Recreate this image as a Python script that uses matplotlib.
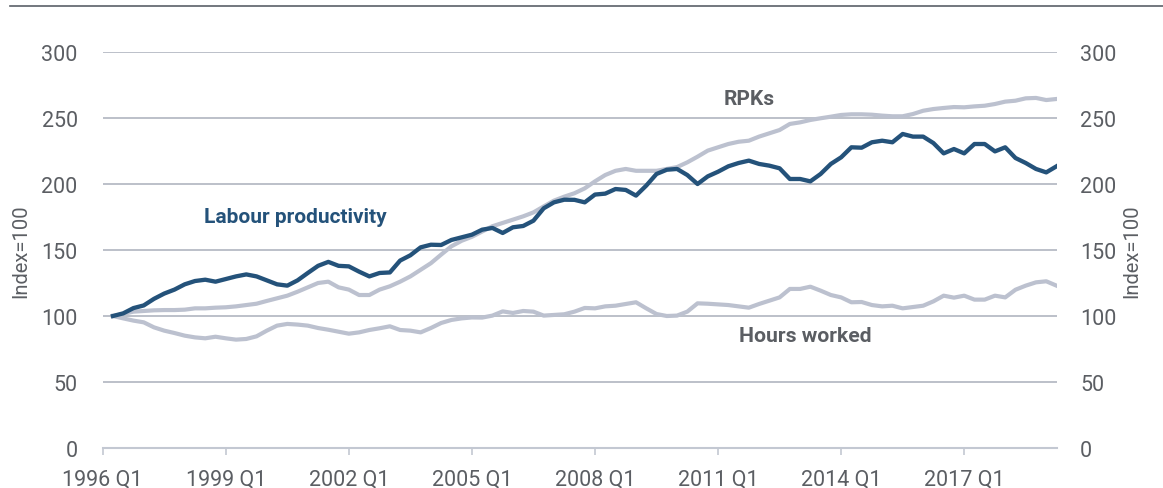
import numpy as np
import matplotlib
matplotlib.use("Agg")
import matplotlib.pyplot as plt
from matplotlib.lines import Line2D

plt.rcParams['font.family'] = ['Roboto', 'DejaVu Sans']

tick_labels = ["1996 Q1", "1999 Q1", "2002 Q1", "2005 Q1", "2008 Q1",
               "2011 Q1", "2014 Q1", "2017 Q1"]

productivity = [100, 102, 106, 108, 113, 117, 120, 124, 126.5, 127.5, 126, 128,
                130, 131.5, 130, 127, 124, 123, 127, 132.6, 138, 141, 138, 137.6,
                133.6, 130, 132.6, 133, 142, 146, 152, 154, 153.8, 157.6, 159.6, 161.6,
                165.4, 166.7, 162.9, 167.2, 168.2, 172.2, 181.6, 186.1, 188.1, 188, 186.1, 192,
                192.7, 196.2, 195.5, 191.2, 198.8, 207.6, 210.8, 211.4, 206.8, 200, 205.8, 209.3,
                213.4, 215.9, 217.7, 215.2, 213.9, 211.9, 203.8, 203.8, 202, 207.6, 215.2, 220.2,
                227.8, 227.5, 231.6, 232.8, 231.6, 237.9, 235.9, 235.9, 231, 223.2, 226.5, 223.2,
                230.3, 230.3, 224.7, 227.8, 219.7, 215.9, 211.4, 208.8, 213.4]

rpks = [100, 101.5, 103.3, 103.8, 104.3, 104.5, 104.5, 104.8, 105.8, 105.8, 106.3, 106.6,
        107.3, 108.3, 109.3, 111.4, 113.4, 115.4, 118.4, 121.7, 125, 126, 121.7, 120,
        115.9, 115.9, 120, 122.5, 126, 130, 135, 140, 146.5, 152.8, 157, 160,
        164, 168, 170.5, 173, 175.5, 178.5, 183, 187.4, 190.4, 193, 196.7, 202,
        206.8, 210, 211.4, 210, 210, 210, 211.4, 212.8, 216.4, 220.7, 225.3, 227.8,
        230.3, 232, 232.8, 235.9, 238.4, 240.9, 245.5, 246.7, 248.5, 249.8, 251, 252.3,
        252.8, 252.8, 252.5, 251.8, 251.3, 251.3, 253, 255.5, 256.8, 257.6, 258.3, 258.1,
        258.8, 259.3, 260.6, 262.4, 263.1, 264.9, 265.2, 263.6, 264.4]

hours = [100, 98.2, 96.5, 95.2, 91.4, 88.9, 87.1, 85.1, 83.8, 83.1, 84.3, 83.1,
         82.1, 82.6, 84.6, 88.9, 92.7, 94, 93.5, 92.7, 90.9, 89.6, 88.1, 86.6,
         87.6, 89.4, 90.7, 92.2, 89.4, 88.9, 87.6, 90.9, 94.7, 97, 98.2, 98.9,
         98.8, 100.3, 103.5, 102.3, 103.8, 103.3, 100.3, 100.8, 101.3, 103.3, 106.1, 105.8,
         107.3, 107.8, 109.1, 110.4, 105.8, 101.5, 100, 100.3, 103.3, 109.6, 109.3, 108.8,
         108.3, 107.3, 106.3, 109.1, 111.6, 114.1, 120.5, 120.5, 122.2, 119.2, 115.9, 114.1,
         110.4, 110.6, 108.3, 107.3, 107.8, 105.8, 106.8, 107.8, 111.1, 115.4, 113.9, 115.4,
         112.4, 112.4, 115.4, 114.1, 119.9, 123, 125.5, 126.3, 123]

W, H = 1163, 489
fig = plt.figure(figsize=(W / 100, H / 100), dpi=100)
left, right, bottom, top = 102.7, 1056.5, 449, 53
ax = fig.add_axes([left / W, 1 - bottom / H, (right - left) / W, (bottom - top) / H])

x = np.arange(1, len(productivity) + 1)
gray_line = '#bcc1cf'
blue_line = '#24527a'
text_gray = '#5b5e63'

ax.plot(x, hours, color=gray_line, lw=3.0, solid_joinstyle='round', zorder=3)
ax.plot(x, rpks, color=gray_line, lw=3.0, solid_joinstyle='round', zorder=3)
ax.plot(x, productivity, color=blue_line, lw=3.1, solid_joinstyle='round', zorder=4)

ax.set_xlim(0, len(productivity))
ax.set_ylim(0, 300)
yt = [0, 50, 100, 150, 200, 250, 300]
ax.set_yticks(yt)
ax.yaxis.grid(True, color='#a9afbb', lw=1.1)
ax.set_axisbelow(True)
for s in ['top', 'right', 'left']:
    ax.spines[s].set_visible(False)
ax.spines['bottom'].set_color('#c3c8d2')
ax.spines['bottom'].set_linewidth(1.5)

ax.set_xticks(np.arange(0, 12 * len(tick_labels), 12))
ax.set_xticklabels(tick_labels)
ax.tick_params(axis='x', length=5, width=1.2, color='#c3c8d2', labelsize=15.5,
               labelcolor=text_gray, pad=10)
ax.tick_params(axis='y', length=0, labelsize=15.5, labelcolor=text_gray, pad=18)
ax.set_ylabel("Index=100", fontsize=14.5, color=text_gray, labelpad=8)

ax2 = ax.twinx()
ax2.set_ylim(0, 300)
ax2.set_yticks(yt)
for s in ax2.spines.values():
    s.set_visible(False)
ax2.tick_params(axis='y', length=0, labelsize=15.5, labelcolor=text_gray, pad=17)
ax2.set_ylabel("Index=100", fontsize=14.5, color=text_gray, rotation=90, labelpad=4)

ax.text(9.9, 175, "Labour productivity", fontsize=15, fontweight='bold',
        color=blue_line, va='center', ha='left')
ax.text(60.5, 265, "RPKs", fontsize=15, fontweight='bold',
        color=text_gray, va='center', ha='left')
ax.text(62, 85, "Hours worked", fontsize=15.2, fontweight='bold',
        color=text_gray, va='center', ha='left')

fig.add_artist(Line2D([10 / W, 1], [1 - 6.7 / H] * 2, color='#5a6068', lw=1.2))

fig.savefig("out.png", dpi=100)
